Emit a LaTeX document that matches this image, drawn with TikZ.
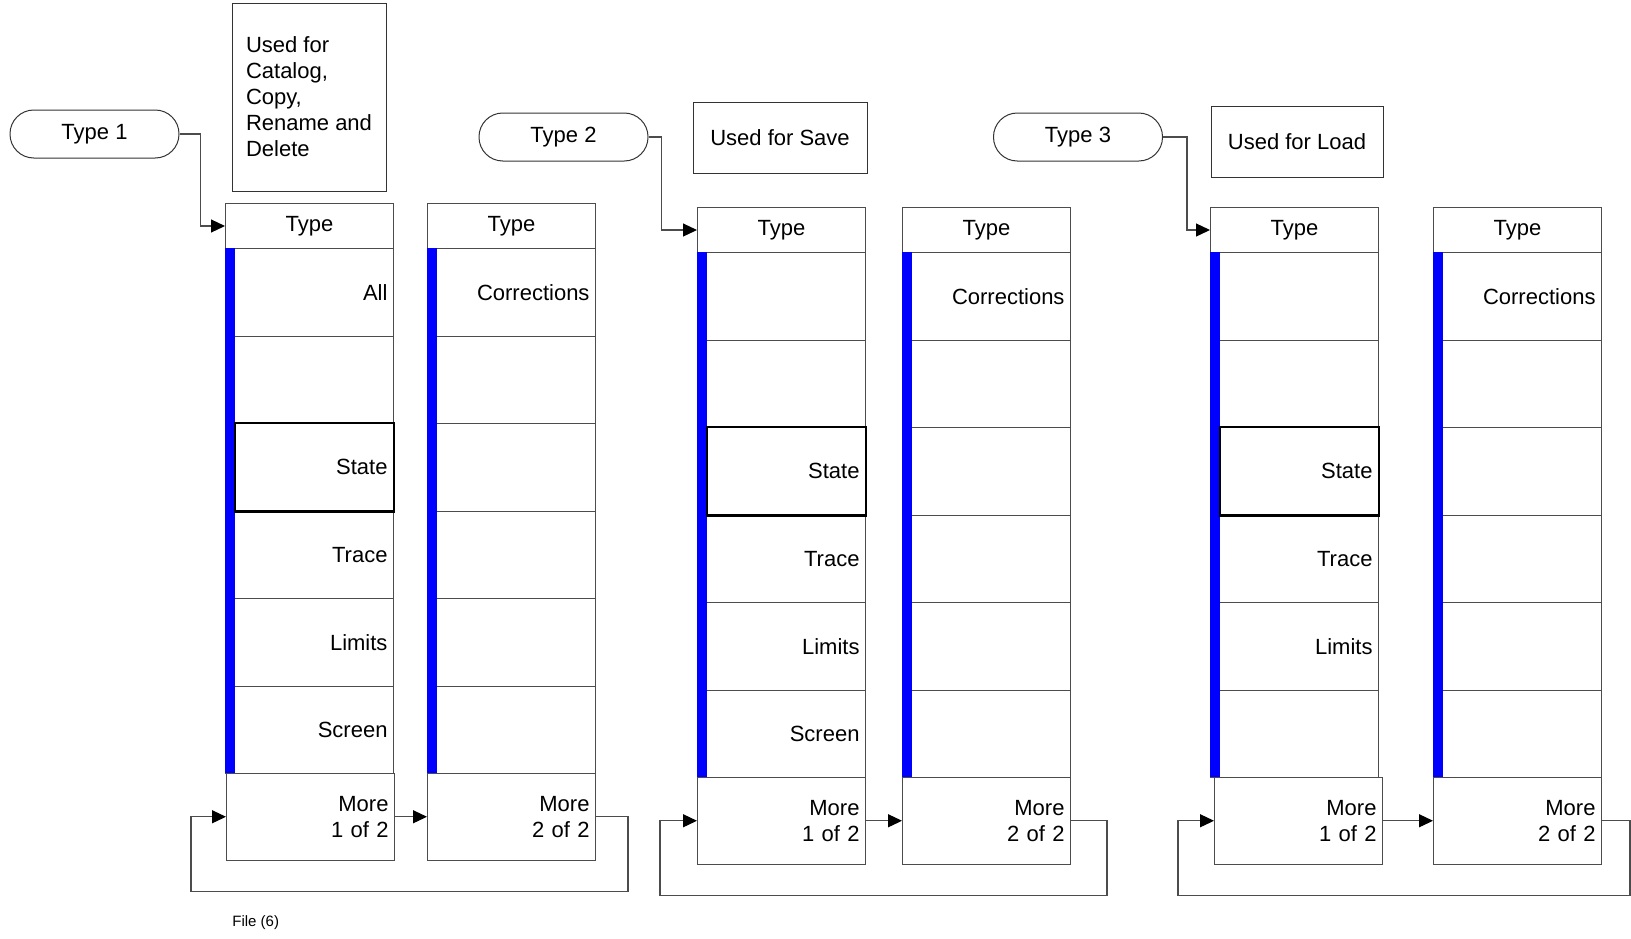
\documentclass[tikz,border=0pt]{standalone}
\usepackage{fontspec}
\setmainfont{Liberation Sans}
\usetikzlibrary{calc,arrows.meta}

\begin{document}
\begin{tikzpicture}[
        x=0.5pt, y=-0.5pt,
        font=\fontsize{11}{13}\selectfont,
        keyhead/.style={draw=black!70, line width=0.5pt, minimum width=84pt, minimum height=22.5pt, inner sep=0pt, anchor=north west},
        softkey/.style={draw=black!70, line width=0.5pt, minimum height=43.75pt, text width=78pt, inner xsep=3pt, align=right, anchor=north west},
        morekey/.style={softkey, minimum height=43.25pt},
        selected/.style={draw=black, line width=1.4pt},
        typepill/.style={draw=black!80, line width=0.5pt, rounded corners=11.9pt, minimum width=84.5pt, minimum height=24pt},
        usagenote/.style={draw=black!80, line width=0.5pt, align=left},
        link/.style={draw=black!70, line width=0.6pt, -{Triangle[length=7pt, width=6.5pt, black]}}
    ]
        \useasboundingbox (0,0) rectangle (1631,938);

        % softkey columns: name / left / top / shift of More key / labels / More text
        \foreach \col/\x/\y/\dx/\labels/\more in {
                A/225/203/1/{All,{},State,Trace,Limits,Screen}/1 of 2,
                B/427/203/0/{Corrections,{},{},{},{},{}}/2 of 2,
                C/697/207/0/{{},{},State,Trace,Limits,Screen}/1 of 2,
                D/902/207/0/{Corrections,{},{},{},{},{}}/2 of 2,
                E/1210/207/4/{{},{},State,Trace,Limits,{}}/1 of 2,
                F/1433/207/0/{Corrections,{},{},{},{},{}}/2 of 2} {
            \node[keyhead] (\col0) at (\x,\y) {Type};
            \foreach \label [count=\row] in \labels {
                \node[softkey] (\col\row) at (\x,\y+45+\row*87.5-87.5) {\label};
            }
            \fill[blue] (\x,\y+45) rectangle (\x+10,\y+570);
            \node[morekey] (\col m) at (\x+\dx,\y+570) {More\\\more};
        }
        \foreach \col in {A,C,E} {
            \draw[selected] ($(\col3.north west)+(10,0)$) rectangle (\col3.south east);
        }

        \node[typepill] (type1) at (94.5,134) {Type 1};
        \node[typepill] (type2) at (563.5,137) {Type 2};
        \node[typepill] (type3) at (1078,137) {Type 3};

        \node[usagenote, minimum width=77pt, minimum height=94pt] (note1) at (309,97)
            {Used for\\Catalog,\\Copy,\\Rename and\\Delete};
        \node[usagenote, minimum width=87pt, minimum height=35.5pt] (note2) at (780,137.5)
            {Used for Save};
        \node[usagenote, minimum width=86pt, minimum height=35.5pt] (note3) at (1297,141.5)
            {Used for Load};

        \draw[link] (type1.east) -- ++(21,0) |- (A0.west);
        \draw[link] (type2.east) -- ++(13,0) |- (C0.west);
        \draw[link] (type3.east) -- ++(24,0) |- (E0.west);

        \draw[link] (Am.east) -- (Bm.west);
        \draw[link] (Cm.east) -- (Dm.west);
        \draw[link] (Em.east) -- (Fm.west);

        \draw[link] (Bm.east) -- ++(32,0) -- ++(0,75) -| ($(Am.west)+(-35,0)$) -- (Am.west);
        \draw[link] (Dm.east) -- ++(36,0) -- ++(0,75) -| ($(Cm.west)+(-37,0)$) -- (Cm.west);
        \draw[link] (Fm.east) -- ++(28,0) -- ++(0,75) -| ($(Em.west)+(-36,0)$) -- (Em.west);

        \node[font=\fontsize{7.5}{9}\selectfont, anchor=west, inner sep=0pt] (caption) at (232,923) {File (6)};
    \end{tikzpicture}
\end{document}
